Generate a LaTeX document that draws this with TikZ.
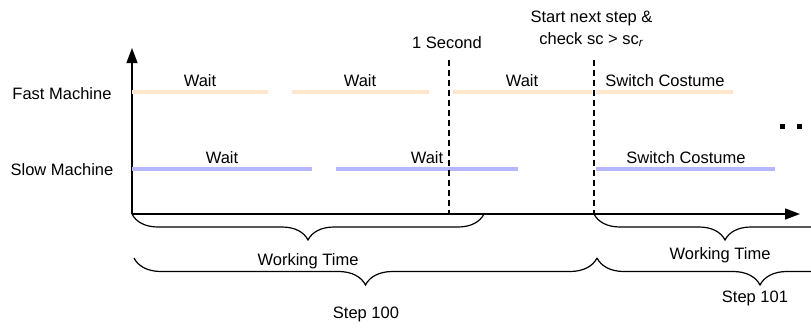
\documentclass[tikz,border=0pt]{standalone}
\usepackage{fontspec}
\setmainfont{Liberation Sans}
\usetikzlibrary{arrows.meta,decorations.pathreplacing}

\definecolor{fastcol}{RGB}{255,230,204}
\definecolor{slowcol}{RGB}{182,182,255}

\begin{document}
\begin{tikzpicture}[
    x=1pt, y=-1pt,
    font=\fontsize{16.5}{19}\selectfont,
    lbl/.style={anchor=base, inner sep=0pt},
    axisline/.style={line width=1.3pt, -{Triangle[length=15pt,width=11pt]}},
    fastline/.style={line width=4pt, draw=fastcol},
    slowline/.style={line width=4pt, draw=slowcol},
    tickline/.style={line width=1.2pt, dash pattern=on 6pt off 4pt},
    bracebelow/.style={line width=1.2pt, decorate,
        decoration={brace, mirror, amplitude=26pt}},
]
\useasboundingbox (0,0) rectangle (811,327);
\clip (0,0) rectangle (811,327);

% ── Axes ─────────────────────────────────────────────
\coordinate (origin) at (132,214);
\coordinate (ytop)   at (132,48);
\coordinate (xend)   at (800,214);
\draw[axisline] (origin) -- (ytop);
\draw[axisline] (origin) -- (xend);

\node[lbl] (fastlbl) at (62,99)  {Fast Machine};
\node[lbl] (slowlbl) at (62,175) {Slow Machine};

% ── Fast machine ─────────────────────────────────────
\draw[fastline] (132,92) -- (268,92);
\draw[fastline] (292,92) -- (429,92);
\draw[fastline] (453,92) -- (592,92);
\draw[fastline] (596,92) -- (733,92);
\node[lbl] (fw1) at (200,86) {Wait};
\node[lbl] (fw2) at (360,86) {Wait};
\node[lbl] (fw3) at (522,86) {Wait};
\node[lbl] (fsw) at (665,86) {Switch Costume};

% ── Slow machine ─────────────────────────────────────
\draw[slowline] (132,169) -- (312,169);
\draw[slowline] (336,169) -- (518,169);
\draw[slowline] (596,169) -- (775,169);
\node[lbl] (sw1) at (222,163) {Wait};
\node[lbl] (sw2) at (427,163) {Wait};
\node[lbl] (ssw) at (686,163) {Switch Costume};

\fill (780,124) rectangle (785,129);
\fill (797,124) rectangle (802,129);

% ── Markers ──────────────────────────────────────────
\coordinate (sec)  at (449,214);
\coordinate (next) at (594,214);
\draw[tickline] (449,60) -- (sec);
\draw[tickline] (594,60) -- (next);
\node[lbl] (seclbl) at (447,48.5) {1 Second};
\node[lbl] (nextlbl) at (591.5,22.7) {Start next step \&};
\node[lbl] (checklbl) at (591.5,44) {check sc > sc\textsubscript{\textit{r}}};

% ── Braces ───────────────────────────────────────────
\coordinate (work1end) at (484,214);
\coordinate (work2end) at (856,214);
\coordinate (step0a) at (134,258);
\coordinate (step0b) at (597,258);
\coordinate (step1b) at (923,258);
\draw[bracebelow] (origin) -- (work1end);
\draw[bracebelow] (next) -- (work2end);
\draw[bracebelow, decoration={amplitude=27pt}] (step0a) -- (step0b);
\draw[bracebelow, decoration={amplitude=27pt}] (step0b) -- (step1b);

\node[lbl] (work1) at (308,265) {Working Time};
\node[lbl] (work2) at (720,259) {Working Time};
\node[lbl] (step0) at (366,318) {Step 100};
\node[lbl] (step1) at (755,302) {Step 101};

\end{tikzpicture}
\end{document}
